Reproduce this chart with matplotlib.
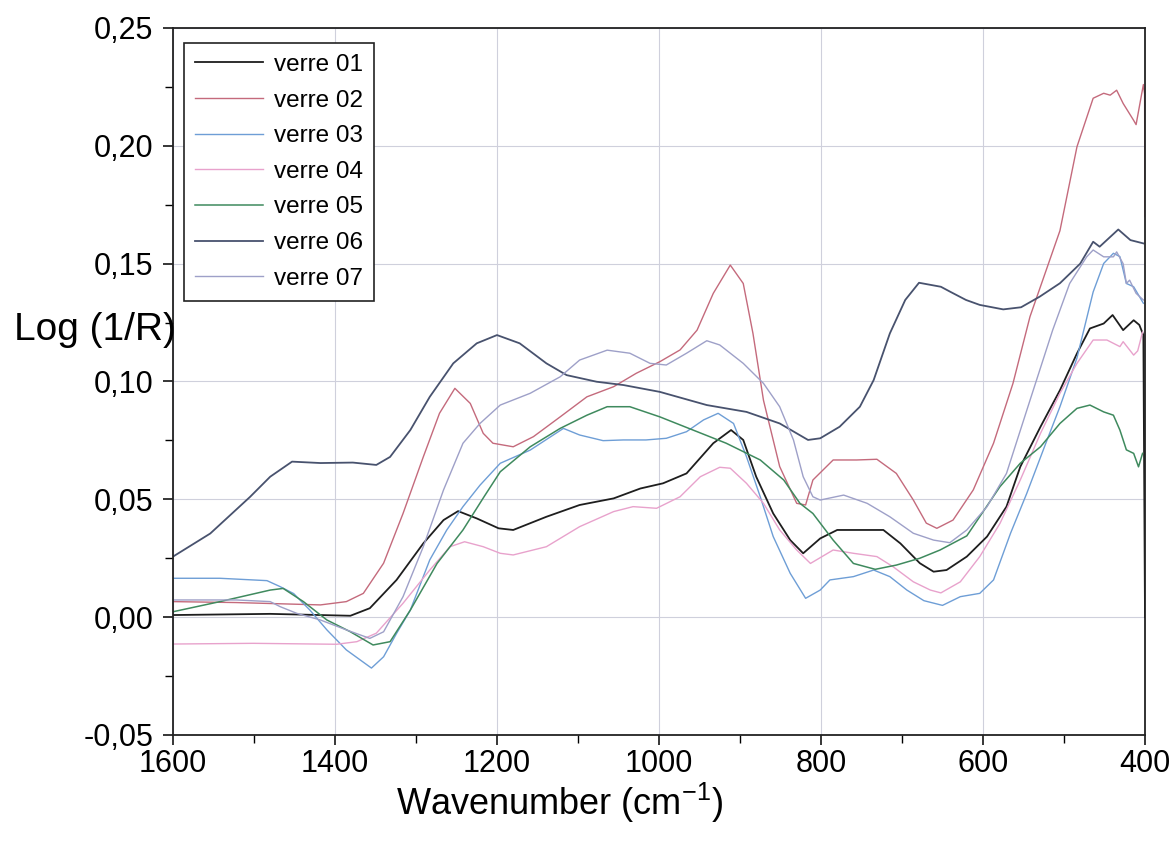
import matplotlib
matplotlib.use('Agg')
import matplotlib.pyplot as plt
from matplotlib.ticker import MultipleLocator, FuncFormatter

plt.rcParams['font.family'] = ['Liberation Sans', 'DejaVu Sans']
plt.rcParams['mathtext.fontset'] = 'custom'
plt.rcParams['mathtext.rm'] = 'Liberation Sans'

# spectra: wavenumber (cm-1) / log(1/R)
wn_01 = [1600, 1480, 1381, 1357, 1324, 1291, 1266, 1248, 1225, 1198, 1180, 1139, 1098, 1056, 1023,
         995, 966, 933, 911, 896, 880, 859, 838, 822, 801, 780, 747, 723, 702, 678, 661, 645, 620,
         595, 571, 554, 529, 505, 484, 468, 451, 440, 427, 414, 407, 402, 400]
v_01 = [0.0009, 0.0014, 0.0006, 0.0038, 0.0158, 0.0313, 0.0412, 0.045, 0.0419, 0.0377, 0.037,
        0.0426, 0.0476, 0.0504, 0.0546, 0.0568, 0.061, 0.0738, 0.0794, 0.0752, 0.0596, 0.044,
        0.0327, 0.0271, 0.0334, 0.037, 0.037, 0.037, 0.0313, 0.0229, 0.0193, 0.020, 0.0257,
        0.0342, 0.0469, 0.0638, 0.0808, 0.0963, 0.1119, 0.1225, 0.1246, 0.1282, 0.1218, 0.126,
        0.124, 0.1197, 0.0]

wn_02 = [1600, 1522, 1418, 1386, 1365, 1340, 1316, 1291, 1271, 1252, 1233, 1217, 1205, 1180, 1155,
         1122, 1089, 1056, 1028, 999, 974, 953, 933, 912, 896, 884, 871, 851, 830, 819, 810, 785,
         756, 731, 707, 686, 670, 657, 637, 612, 587, 563, 542, 505, 484, 464, 451, 443, 435, 427,
         414, 411, 402, 400.5, 400]
v_02 = [0.0066, 0.0062, 0.0052, 0.0066, 0.0101, 0.0229, 0.044, 0.068, 0.0865, 0.0971, 0.0907,
        0.078, 0.0738, 0.0723, 0.0766, 0.085, 0.0935, 0.0978, 0.1035, 0.1084, 0.1134, 0.1218,
        0.1374, 0.1494, 0.1416, 0.1204, 0.092, 0.0639, 0.0483, 0.0476, 0.0582, 0.0667, 0.0667,
        0.067, 0.061, 0.0497, 0.0399, 0.0377, 0.0412, 0.054, 0.0738, 0.0992, 0.1275, 0.164,
        0.1996, 0.2202, 0.2223, 0.2215, 0.2236, 0.218, 0.2108, 0.209, 0.226, 0.222, 0.17]

wn_03 = [1600, 1542, 1484, 1468, 1451, 1431, 1410, 1386, 1355, 1340, 1324, 1307, 1283, 1262, 1242,
         1221, 1196, 1159, 1118, 1098, 1069, 1044, 1016, 991, 966, 945, 927, 908, 892, 875, 859,
         838, 819, 801, 789, 760, 735, 715, 694, 673, 650, 628, 604, 587, 566, 546, 521, 505, 484,
         464, 451, 439, 431, 427, 423, 414, 402]
v_03 = [0.0165, 0.0165, 0.0155, 0.013, 0.010, 0.003, -0.0054, -0.0139, -0.0216, -0.0168, -0.0069,
        0.003, 0.0243, 0.037, 0.0469, 0.056, 0.0653, 0.0709, 0.0801, 0.0773, 0.0749, 0.0752,
        0.0752, 0.0759, 0.0787, 0.0837, 0.0865, 0.0822, 0.0681, 0.0511, 0.0342, 0.0186, 0.008,
        0.0115, 0.0158, 0.0172, 0.020, 0.0172, 0.0115, 0.007, 0.0050, 0.0087, 0.0101, 0.0158,
        0.0356, 0.0525, 0.0751, 0.0893, 0.110, 0.138, 0.1501, 0.1544, 0.153, 0.1473, 0.1416,
        0.1402, 0.1332]

wn_04 = [1600, 1501, 1398, 1373, 1349, 1316, 1283, 1258, 1240, 1217, 1196, 1180, 1139, 1098, 1056,
         1032, 1003, 974, 949, 925, 912, 892, 871, 851, 830, 813, 785, 760, 731, 711, 686, 665,
         652, 628, 604, 579, 554, 529, 505, 484, 464, 447, 431, 427, 414, 409, 403]
v_04 = [-0.0114, -0.0111, -0.0115, -0.0104, -0.0068, 0.0059, 0.020, 0.0299, 0.032, 0.0299, 0.0271,
        0.0264, 0.0299, 0.0384, 0.0448, 0.0469, 0.0462, 0.0511, 0.0596, 0.0636, 0.0632, 0.0568,
        0.0483, 0.037, 0.0285, 0.0228, 0.0285, 0.0271, 0.0257, 0.0214, 0.015, 0.0115, 0.0103,
        0.015, 0.0257, 0.0398, 0.0582, 0.078, 0.095, 0.1077, 0.1176, 0.1176, 0.1148, 0.1169,
        0.1112, 0.113, 0.121]

wn_05 = [1600, 1542, 1480, 1464, 1439, 1410, 1381, 1353, 1332, 1307, 1274, 1242, 1216, 1196, 1159,
         1122, 1089, 1064, 1036, 999, 958, 917, 875, 846, 826, 810, 785, 760, 733, 707, 678, 653,
         620, 579, 554, 529, 505, 484, 468, 451, 439, 431, 423, 414, 408, 403]
v_05 = [0.0023, 0.0066, 0.0115, 0.0122, 0.0066, -0.0012, -0.0062, -0.0118, -0.0104, 0.003, 0.0228,
        0.037, 0.0511, 0.0617, 0.0723, 0.0801, 0.0857, 0.0893, 0.0893, 0.085, 0.0794, 0.0738,
        0.0667, 0.0582, 0.0483, 0.044, 0.0327, 0.0228, 0.0203, 0.0221, 0.025, 0.0285, 0.0345,
        0.0554, 0.0653, 0.0723, 0.0822, 0.0886, 0.090, 0.0871, 0.0857, 0.0794, 0.071, 0.0695,
        0.0638, 0.0695]

wn_06 = [1600, 1554, 1505, 1480, 1453, 1418, 1378, 1349, 1332, 1307, 1283, 1254, 1225, 1200, 1172,
         1139, 1114, 1077, 1044, 999, 941, 892, 851, 816, 801, 777, 752, 735, 715, 696, 679, 652,
         640, 621, 604, 575, 553, 530, 505, 480, 464, 456, 433, 418, 402]
v_06 = [0.0257, 0.0355, 0.051, 0.0596, 0.066, 0.0654, 0.0656, 0.0646, 0.068, 0.0794, 0.0935,
        0.1077, 0.1162, 0.1197, 0.1162, 0.1077, 0.1027, 0.0999, 0.0985, 0.0956, 0.090, 0.0871,
        0.0822, 0.0752, 0.0759, 0.0808, 0.0893, 0.1006, 0.1204, 0.1346, 0.1419, 0.1402, 0.138,
        0.1346, 0.1325, 0.1306, 0.1315, 0.136, 0.1417, 0.150, 0.1593, 0.1572, 0.1645, 0.160,
        0.1586]

wn_07 = [1600, 1522, 1480, 1468, 1447, 1418, 1386, 1357, 1340, 1316, 1291, 1266, 1242, 1221, 1196,
         1159, 1122, 1098, 1064, 1036, 1011, 991, 966, 941, 925, 896, 871, 851, 834, 822, 810, 801,
         772, 743, 715, 686, 661, 641, 620, 595, 571, 542, 514, 493, 472, 464, 451, 439, 435, 427,
         423, 419, 411, 402]
v_07 = [0.0073, 0.0073, 0.0066, 0.0045, 0.0016, -0.0012, -0.0054, -0.009, -0.0062, 0.0087, 0.0299,
        0.054, 0.0738, 0.0822, 0.090, 0.095, 0.102, 0.1091, 0.1133, 0.112, 0.1077, 0.107, 0.112,
        0.1173, 0.1155, 0.1077, 0.0992, 0.0893, 0.0752, 0.0596, 0.0511, 0.0497, 0.0518, 0.0483,
        0.0426, 0.0356, 0.0327, 0.0316, 0.037, 0.0469, 0.061, 0.092, 0.1218, 0.1416, 0.1529,
        0.1558, 0.1529, 0.1529, 0.155, 0.150, 0.1416, 0.143, 0.1374, 0.1346]

labels = ['verre 01', 'verre 02', 'verre 03', 'verre 04', 'verre 05', 'verre 06', 'verre 07']

series = [(wn_01, v_01, '#1e1e1e', 1.3),
          (wn_02, v_02, '#c46a7c', 1.0),
          (wn_03, v_03, '#6e9ed6', 1.0),
          (wn_04, v_04, '#e8a2cc', 1.0),
          (wn_05, v_05, '#3f8a5e', 1.1),
          (wn_06, v_06, '#48526e', 1.3),
          (wn_07, v_07, '#9ea0c8', 1.0)]

fig = plt.figure(figsize=(11.76, 8.44), dpi=100)
ax = fig.add_axes([173 / 1176, 1 - 735 / 844, 972 / 1176, 707 / 844])

for (x, y, c, lw), lab in zip(series, labels):
    ax.plot(x, y, color=c, lw=lw, label=lab)

ax.set_xlim(1600, 400)
ax.set_ylim(-0.05, 0.25)
ax.xaxis.set_major_locator(MultipleLocator(200))
ax.xaxis.set_minor_locator(MultipleLocator(100))
ax.yaxis.set_major_locator(MultipleLocator(0.05))
ax.yaxis.set_minor_locator(MultipleLocator(0.025))
ax.yaxis.set_major_formatter(FuncFormatter(lambda v, p: '{:.2f}'.format(v).replace('.', ',')))
ax.xaxis.set_major_formatter(FuncFormatter(lambda v, p: '{:d}'.format(int(round(v)))))

ax.tick_params(which='major', direction='out', length=7, width=1.1, labelsize=22)
ax.tick_params(which='minor', direction='out', length=5.5, width=1.0)
ax.tick_params(axis='x', which='major', pad=3)
ax.tick_params(axis='y', which='major', pad=7)
ax.tick_params(top=False, right=False, which='both')

ax.grid(True, which='major', color='#cfd0dc', lw=0.8, ls='-')
for s in ax.spines.values():
    s.set_linewidth(1.3)
    s.set_color('#222222')

leg = ax.legend(loc='upper left', bbox_to_anchor=(184 / 1176, 1 - 43 / 844),
                bbox_transform=fig.transFigure, borderaxespad=0, fontsize=17.5,
                handlelength=2.8, handletextpad=0.45, labelspacing=0.56, borderpad=0.45,
                fancybox=False, framealpha=1, edgecolor='#222222')
leg.get_frame().set_linewidth(1.2)

fig.text(95 / 1176, 1 - 330 / 844, 'Log (1/R)', ha='center', va='center', fontsize=28)
fig.text(560 / 1176, 1 - 803 / 844, 'Wavenumber (cm$^{-1}$)', ha='center', va='center', fontsize=26)

plt.savefig('out.png', dpi=100)
